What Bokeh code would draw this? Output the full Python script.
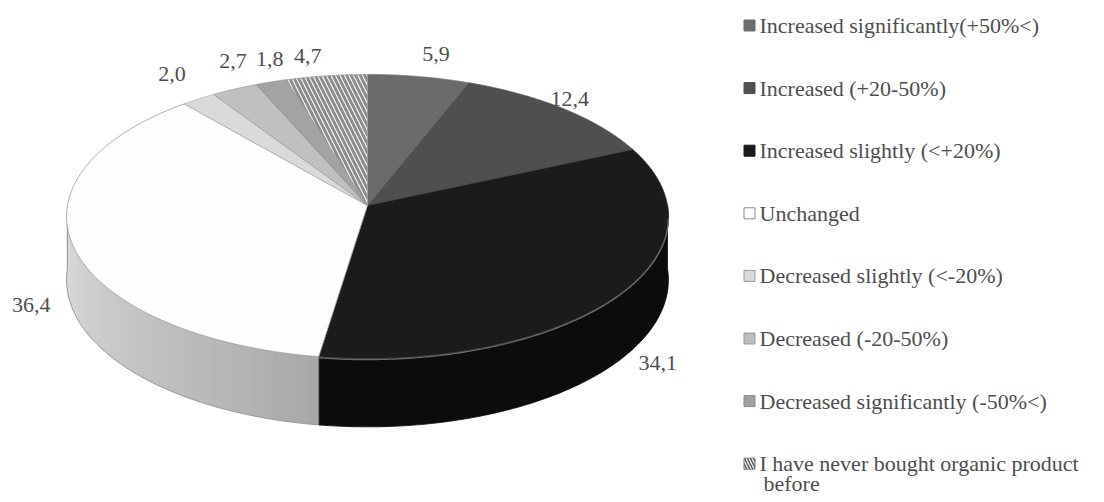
import math
import textwrap
import numpy as np
from bokeh.plotting import figure
from bokeh.models import Range1d
from bokeh.embed import file_html
from bokeh.resources import INLINE
from bokeh.core.properties import value

# ---------------- data ----------------
categories = [
    "Increased significantly(+50%<)",
    "Increased (+20-50%)",
    "Increased slightly (<+20%)",
    "Unchanged",
    "Decreased slightly (<-20%)",
    "Decreased (-20-50%)",
    "Decreased significantly (-50%<)",
    "I have never bought organic product before",
]
shares = [5.9, 12.4, 34.1, 36.4, 2.0, 2.7, 1.8, 4.7]
data_labels = [f"{v:.1f}".replace(".", ",") for v in shares]

# ---------------- styles ----------------
top_colors = ["#6b6b6b", "#4f4f4f", "#1b1b1b", "#fdfdfd", "#dadada", "#c0c0c0", "#a3a3a3", "#ffffff"]
side_colors = ["#5a5a5a", "#404040", "#0c0c0c", "#c8c8c8", "#c4c4c4", "#aaaaaa", "#8f8f8f", "#eeeeee"]
edge_colors = ["#777777", "#5e5e5e", "#3a3a3a", "#9a9a9a", "#b0b0b0", "#a0a0a0", "#8e8e8e", "#9a9a9a"]
hatches = [None, None, None, None, None, None, None, "\\"]
legend_fill = ["#6e6e6e", "#505050", "#1a1a1a", "#ffffff", "#d9d9d9", "#bdbdbd", "#a0a0a0", "#ffffff"]
legend_line = ["#6e6e6e", "#505050", "#1a1a1a", "#8a8a8a", "#9a9a9a", "#9a9a9a", "#8a8a8a", "#777777"]
label_nudge = [(10, -5), (-21, 4), (0, -13), (4, -10), (-3, -10), (17, -12), (12, -6), (-13, -2)]

W, H = 1104, 502
CX, CY = 367, 205      # projected centre of the top face
RX, AY = 300, 141.2    # horizontal radius / vertical scale
DP = 12.9              # perspective distance (in radii)
DEPTH = 63             # thickness of the pie
FONT = value("Liberation Serif")
TXT = "#4e4e4e"


def proj(theta_deg, r=1.0):
    t = np.radians(theta_deg)
    X = r * np.sin(t)
    Z = r * np.cos(t)
    s = DP / (DP + Z)
    return CX + X * RX * s, CY - Z * AY * s, s, Z


p = figure(width=W, height=H, x_range=Range1d(0, W), y_range=Range1d(H, 0),
           output_backend="svg", toolbar_location=None, min_border=0)
p.axis.visible = False
p.grid.visible = False
p.outline_line_color = None
p.background_fill_color = "white"
p.border_fill_color = "white"

total = sum(shares)
bounds = np.concatenate([[0], np.cumsum(shares)]) / total * 360.0

# ---------- sides (front half only) ----------
for i in range(len(shares)):
    a0, a1 = max(bounds[i], 90.0), min(bounds[i + 1], 270.0)
    if a1 <= a0:
        continue
    if categories[i] == "Unchanged":
        # shaded side: split into strips to fake a gradient
        n = 40
        edges = np.linspace(a0, a1, n + 1)
        dark = np.array([0xa6, 0xa6, 0xa6])
        light = np.array([0xde, 0xde, 0xde])
        for k in range(n):
            th = np.linspace(edges[k], edges[k + 1] + 0.3, 6)
            x, y, s, _ = proj(th)
            yb = y + DEPTH * s
            f = (k + 0.5) / n
            c = dark + (light - dark) * f ** 0.8
            col = "#%02x%02x%02x" % tuple(int(v) for v in c)
            p.patch(np.concatenate([x, x[::-1]]), np.concatenate([y, yb[::-1]]),
                    fill_color=col, line_color=None)
        th = np.linspace(a0, a1, 80)
        x, y, s, _ = proj(th)
        yb = y + DEPTH * s
        p.line(x, yb, line_color="#9a9a9a", line_width=1)
    else:
        th = np.linspace(a0, a1, 120)
        x, y, s, _ = proj(th)
        yb = y + DEPTH * s
        p.patch(np.concatenate([x, x[::-1]]), np.concatenate([y, yb[::-1]]),
                fill_color=side_colors[i], line_color=side_colors[i], line_width=0.8)

# vertical seam lines on the side
for b in bounds:
    if 90 < b < 270:
        x, y, s, _ = proj(b)
        p.line([x, x], [y, y + DEPTH * s], line_color="#7a7a7a", line_width=1)
x, y, s, _ = proj(270.0)
p.line([x, x], [y, y + DEPTH * s], line_color="#a0a0a0", line_width=1)

# ---------- top faces ----------
for i in range(len(shares)):
    th = np.linspace(bounds[i], bounds[i + 1], 200)
    x, y, s, _ = proj(th)
    xs = np.concatenate([[CX], x])
    ys = np.concatenate([[CY], y])
    kw = dict(fill_color=top_colors[i], line_color=edge_colors[i], line_width=0.8)
    if hatches[i]:
        kw.update(hatch_pattern=hatches[i], hatch_color="#8c8c8c", hatch_scale=9, hatch_weight=3)
    p.patch(xs, ys, **kw)

# highlight along the front rim of the black slice
th = np.linspace(max(bounds[2], 95), bounds[3], 120)
x, y, s, _ = proj(th)
p.line(x, y + 1, line_color="#6a6a6a", line_width=1.4)

# ---------- data labels ----------
lx, ly = [], []
for i in range(len(shares)):
    mid = (bounds[i] + bounds[i + 1]) / 2
    x, y, s, Z = proj(mid, 1.15)
    if Z < 0:
        y = y + DEPTH * s
    lx.append(float(x) + label_nudge[i][0])
    ly.append(float(y) + label_nudge[i][1])
p.text(x=lx, y=ly, text=data_labels, text_align="center", text_baseline="middle",
       text_font=FONT, text_font_size="22px", text_color=TXT)

# ---------- legend ----------
LX, LY0, LDY = 749, 25, 62.6
for i, cat in enumerate(categories):
    yy = LY0 + i * LDY
    kw = dict(fill_color=legend_fill[i], line_color=legend_line[i], line_width=1)
    if hatches[i]:
        kw.update(hatch_pattern=hatches[i], hatch_color="#555555", hatch_scale=6, hatch_weight=1.5)
    p.rect(x=[LX], y=[yy], width=11, height=11, **kw)
    lines = textwrap.wrap(cat, 35)
    for j, ln in enumerate(lines):
        p.text(x=[759 + (4 if j else 0)], y=[yy + j * 20], text=[ln],
               text_align="left", text_baseline="middle",
               text_font=FONT, text_font_size="22px", text_color=TXT)

open("out.html", "w").write(file_html(p, INLINE))
